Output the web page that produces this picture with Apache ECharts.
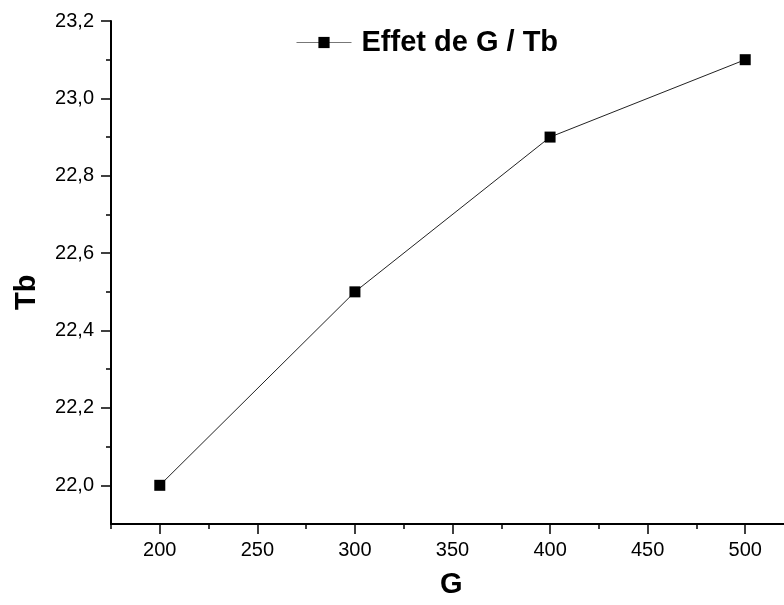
<!DOCTYPE html>
<html>
<head>
<meta charset="utf-8">
<script src="https://cdn.jsdelivr.net/npm/echarts@6/dist/echarts.min.js"></script>
<style>
  html, body { margin: 0; padding: 0; background: #fff; }
  #chart { width: 784px; height: 605px; }
</style>
</head>
<body>
<div id="chart"></div>
<script>
// G values and the resulting Tb
const gValues = [200, 300, 400, 500];
const tbValues = [22.0, 22.5, 22.9, 23.1];
const seriesName = 'Effet de G / Tb';

// Axis ranges: full frame and the labelled span inside it
const xFrame = [175, 525];
const yFrame = [21.9, 23.2];
const xLabelled = [200, 500];
const yLabelled = [22.0, 23.2];

const FONT = '"Liberation Sans", Arial, sans-serif';

// Pixel frame of the plot (right part runs past the canvas edge)
const PLOT = { left: 111, top: 21, width: 683, height: 503 };
const pxPerX = PLOT.width / (xFrame[1] - xFrame[0]);
const pxPerY = PLOT.height / (yFrame[1] - yFrame[0]);
// Inner grid carrying major ticks and labels
const inner = {
  left: PLOT.left + (xLabelled[0] - xFrame[0]) * pxPerX,
  width: (xLabelled[1] - xLabelled[0]) * pxPerX,
  top: PLOT.top + (yFrame[1] - yLabelled[1]) * pxPerY,
  height: (yLabelled[1] - yLabelled[0]) * pxPerY
};
const innerBottomGap = PLOT.top + PLOT.height - (inner.top + inner.height);
const innerLeftGap = inner.left - PLOT.left;

const chart = echarts.init(document.getElementById('chart'), null, { renderer: 'canvas' });

const commaFmt = v => Number(v).toFixed(1).replace('.', ',');
const tickStyle = { color: '#000', width: 1.5 };

chart.setOption({
  animation: false,
  backgroundColor: '#ffffff',
  textStyle: { fontFamily: FONT, color: '#000' },
  grid: [
    { left: PLOT.left, top: PLOT.top, width: PLOT.width, height: PLOT.height, containLabel: false, outerBoundsMode: 'none' },
    { left: inner.left, top: inner.top, width: inner.width, height: inner.height, containLabel: false, outerBoundsMode: 'none' }
  ],
  legend: {
    left: 296,
    top: 28,
    padding: 0,
    itemWidth: 55,
    itemHeight: 14,
    lineStyle: { color: '#777', width: 1 },
    textStyle: { fontFamily: FONT, fontSize: 29, fontWeight: 'bold', color: '#000', padding: [0, 0, 0, 5] },
    data: [seriesName]
  },
  xAxis: [
    {
      // frame axis: line + 25-step minor ticks
      gridIndex: 0, type: 'value', min: xFrame[0], max: xFrame[1], interval: 25,
      axisLine: { show: true, onZero: false, lineStyle: { color: '#000', width: 2 } },
      axisTick: { show: true, inside: false, length: 5, lineStyle: tickStyle },
      axisLabel: { show: false },
      splitLine: { show: false }
    },
    {
      // labelled axis: 50-step major ticks
      gridIndex: 1, type: 'value', min: xLabelled[0], max: xLabelled[1], interval: 50,
      offset: innerBottomGap,
      axisLine: { show: false, onZero: false },
      axisTick: { show: true, inside: false, length: 10, lineStyle: tickStyle },
      axisLabel: { margin: 16, fontSize: 20, color: '#000', fontFamily: FONT },
      splitLine: { show: false }
    }
  ],
  yAxis: [
    {
      gridIndex: 0, type: 'value', min: yFrame[0], max: yFrame[1],
      axisLine: { show: true, onZero: false, lineStyle: { color: '#000', width: 2 } },
      axisTick: { show: false },
      axisLabel: { show: false },
      splitLine: { show: false }
    },
    {
      gridIndex: 1, type: 'value', min: yLabelled[0], max: yLabelled[1], interval: 0.2,
      offset: innerLeftGap,
      axisLine: { show: false, onZero: false },
      axisTick: { show: true, inside: false, length: 10, lineStyle: tickStyle },
      minorTick: { show: true, splitNumber: 2, length: 5, lineStyle: tickStyle },
      axisLabel: { margin: 17, fontSize: 20, color: '#000', fontFamily: FONT, formatter: commaFmt },
      splitLine: { show: false }
    }
  ],
  graphic: [
    {
      type: 'text', left: 440, top: 570,
      style: { text: 'G', font: 'bold 29px ' + FONT, fill: '#000' }
    },
    {
      type: 'text', x: 12, y: 310, rotation: Math.PI / 2,
      style: { text: 'Tb', font: 'bold 29px ' + FONT, fill: '#000', textVerticalAlign: 'top' }
    }
  ],
  series: [
    {
      name: seriesName,
      type: 'line',
      xAxisIndex: 0,
      yAxisIndex: 0,
      data: gValues.map((g, i) => [g, tbValues[i]]),
      symbol: 'rect',
      symbolSize: 11,
      showAllSymbol: true,
      lineStyle: { color: '#222', width: 1 },
      itemStyle: { color: '#000' },
      emphasis: { disabled: true }
    }
  ]
});
</script>
</body>
</html>
